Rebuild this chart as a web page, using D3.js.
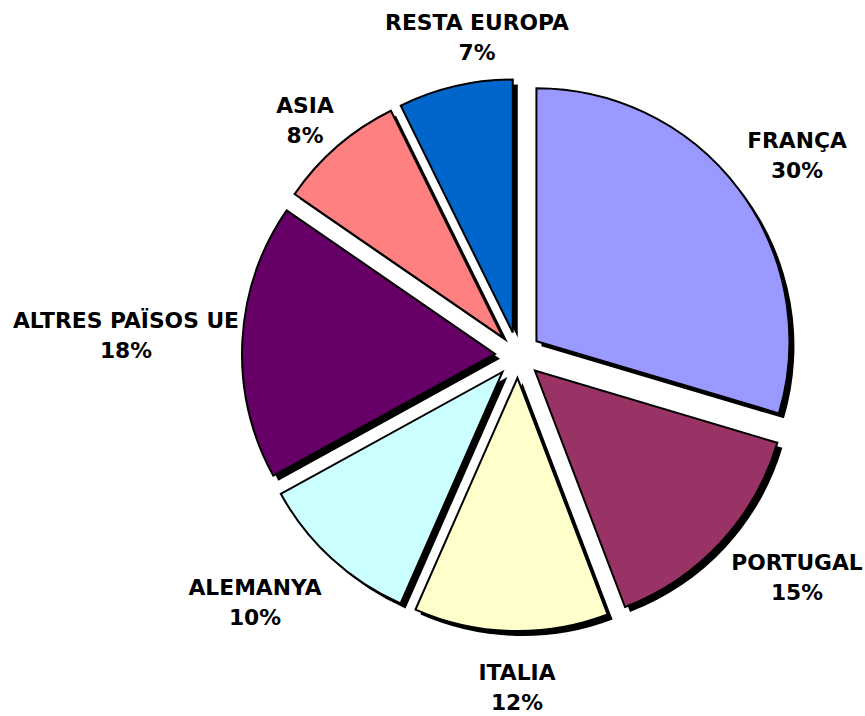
<!DOCTYPE html>
<html>
<head>
<meta charset="utf-8">
<script src="https://cdn.jsdelivr.net/npm/d3@7"></script>
<style>
  html, body { margin: 0; padding: 0; background: #fff; }
  svg { display: block; }
  .lbl { font-family: "DejaVu Sans", Verdana, sans-serif; font-weight: bold; font-size: 21.8px; fill: #000; }
</style>
</head>
<body>
<svg id="chart" width="865" height="716"></svg>
<script>
// ---- data (shares in %) ----
const categories = ["FRANÇA", "PORTUGAL", "ITALIA", "ALEMANYA", "ALTRES PAÏSOS UE", "ASIA", "RESTA EUROPA"];
const values = [29.6, 14.6, 12.4, 10.4, 17.6, 8.1, 7.3];
const colors = ["#9999FF", "#993366", "#FFFFCC", "#CCFFFF", "#660066", "#FF8080", "#0066CC"];

// ---- layout ----
const W = 865, H = 716;
const cx = 518, cy = 355, R = 253, explode = 23;
const shadow = { dx: 5, dy: 5 };
// label centres (layout only)
const labelLayout = {
  "FRANÇA": [797, 156],
  "PORTUGAL": [797, 578],
  "ITALIA": [517, 688],
  "ALEMANYA": [255, 603],
  "ALTRES PAÏSOS UE": [126, 336],
  "ASIA": [305, 121],
  "RESTA EUROPA": [477, 38]
};
const lineGap = 30.5;

const svg = d3.select("#chart");
const data = categories.map((c, i) => ({ name: c, value: values[i], color: colors[i] }));
const total = d3.sum(values);

const pie = d3.pie().sort(null).value(d => d.value).startAngle(0).endAngle(2 * Math.PI);
const arcs = pie(data);
const arc = d3.arc().innerRadius(0).outerRadius(R);

function offset(a) {
  const m = (a.startAngle + a.endAngle) / 2;
  return [Math.sin(m) * explode, -Math.cos(m) * explode];
}

const g = svg.append("g").attr("transform", `translate(${cx},${cy})`);

// shadows
g.append("g").selectAll("path").data(arcs).join("path")
  .attr("d", arc)
  .attr("fill", "#000")
  .attr("transform", d => { const o = offset(d); return `translate(${o[0] + shadow.dx},${o[1] + shadow.dy})`; });

// slices
g.append("g").selectAll("path").data(arcs).join("path")
  .attr("d", arc)
  .attr("fill", d => d.data.color)
  .attr("stroke", "#000")
  .attr("stroke-width", 2)
  .attr("stroke-linejoin", "miter")
  .attr("transform", d => { const o = offset(d); return `translate(${o[0]},${o[1]})`; });

// labels
const lg = svg.append("g");
arcs.forEach(a => {
  const [x, y] = labelLayout[a.data.name];
  const pct = d3.format(".0f")(a.data.value / total * 100) + "%";
  const t = lg.append("text").attr("class", "lbl").attr("text-anchor", "middle");
  t.append("tspan").attr("x", x).attr("y", y - lineGap / 2 + 7).text(a.data.name);
  t.append("tspan").attr("x", x).attr("y", y + lineGap / 2 + 7).text(pct);
});
</script>
</body>
</html>
